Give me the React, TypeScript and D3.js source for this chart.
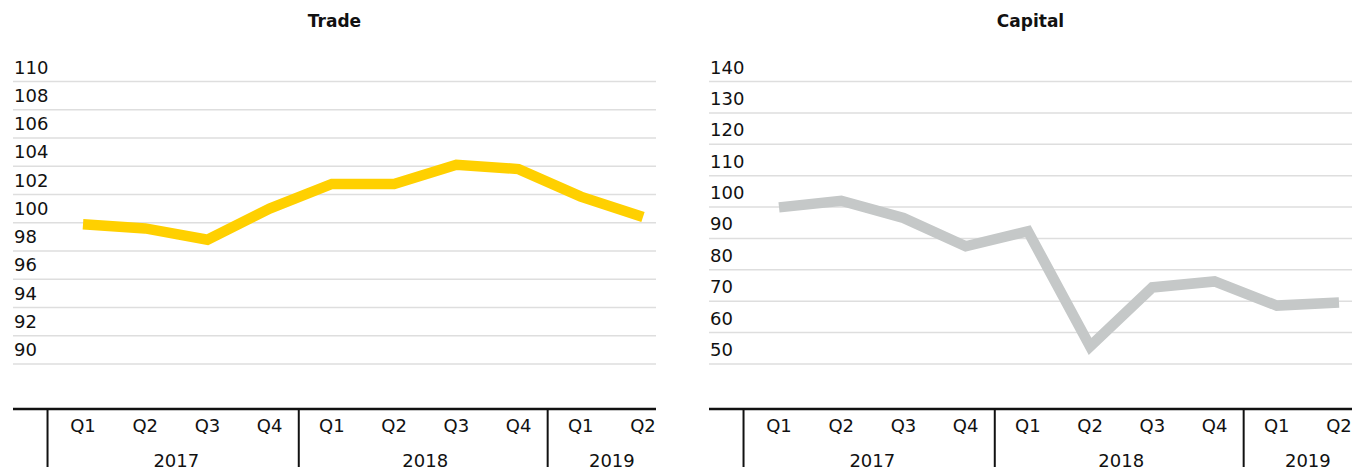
import * as d3 from 'd3';

const quarters = ['Q1', 'Q2', 'Q3', 'Q4', 'Q1', 'Q2', 'Q3', 'Q4', 'Q1', 'Q2'];
const years = ['2017', '2017', '2017', '2017', '2018', '2018', '2018', '2018', '2019', '2019'];

const tradeValues = [99.9, 99.6, 98.8, 101.0, 102.75, 102.75, 104.1, 103.8, 101.85, 100.4];
const tradeTicks = [110, 108, 106, 104, 102, 100, 98, 96, 94, 92, 90];

const capitalValues = [99.9, 102.0, 96.5, 87.5, 92.3, 55.6, 74.4, 76.3, 68.6, 69.6];
const capitalTicks = [140, 130, 120, 110, 100, 90, 80, 70, 60, 50];

const WIDTH = 1359;
const HEIGHT = 471;
const FONT = '"DejaVu Sans", sans-serif';

interface PanelProps {
    title: string;
    values: number[];
    ticks: number[];
    color: string;
    x0: number;
    x1: number;
}

function Panel({ title, values, ticks, color, x0, x1 }: PanelProps) {
    const idx = d3.range(values.length);
    const x = d3.scalePoint<number>().domain(idx).range([x0 + 70, x0 + 630]);
    const y = d3.scaleLinear()
        .domain([d3.min(ticks)!, d3.max(ticks)!])
        .range([364, 81.5]);
    const step = x.step();

    const line = d3.line<number>()
        .x((_, i) => x(i)!)
        .y((d) => y(d));

    // year groups: start index, end index
    const groups: { year: string; from: number; to: number }[] = [];
    years.forEach((yr, i) => {
        const last = groups[groups.length - 1];
        if (last && last.year === yr) last.to = i;
        else groups.push({ year: yr, from: i, to: i });
    });

    return (
        <g>
            <text
                x={(x0 + x1) / 2}
                y={26.5}
                textAnchor="middle"
                fontFamily={FONT}
                fontWeight="bold"
                fontSize={17}
                fill="#111"
            >
                {title}
            </text>
            {ticks.map((t) => (
                <g key={t}>
                    <line x1={x0} x2={x1} y1={y(t)} y2={y(t)} stroke="#dedede" strokeWidth={1.5} />
                    <text x={x0 + 1} y={y(t) - 8} fontFamily={FONT} fontSize={18} fill="#111">
                        {t}
                    </text>
                </g>
            ))}
            <path
                d={line(values) || ''}
                fill="none"
                stroke={color}
                strokeWidth={10.5}
                strokeLinejoin="miter"
                strokeLinecap="butt"
            />
            {/* category axis */}
            <line x1={x0} x2={x1} y1={409} y2={409} stroke="#111" strokeWidth={2.5} />
            {groups.map((g, gi) => {
                const sep = gi === 0 ? x(g.from)! - step * 0.57 : x(g.from)! - step / 2 - 2;
                return (
                    <g key={g.year}>
                        <line x1={sep} x2={sep} y1={409} y2={467} stroke="#111" strokeWidth={2} />
                        <text
                            x={(x(g.from)! + x(g.to)!) / 2}
                            y={467}
                            textAnchor="middle"
                            fontFamily={FONT}
                            fontSize={18}
                            fill="#111"
                        >
                            {g.year}
                        </text>
                    </g>
                );
            })}
            {quarters.map((q, i) => (
                <text
                    key={i}
                    x={x(i)!}
                    y={432}
                    textAnchor="middle"
                    fontFamily={FONT}
                    fontSize={18}
                    fill="#111"
                >
                    {q}
                </text>
            ))}
        </g>
    );
}

export default function App() {
    return (
        <svg
            width={WIDTH}
            height={HEIGHT}
            style={{ position: 'absolute', left: 0, top: 0, background: '#fff' }}
        >
            <Panel title="Trade" values={tradeValues} ticks={tradeTicks} color="#ffd000" x0={13} x1={656} />
            <Panel title="Capital" values={capitalValues} ticks={capitalTicks} color="#c5c8c8" x0={709} x1={1352} />
        </svg>
    );
}
